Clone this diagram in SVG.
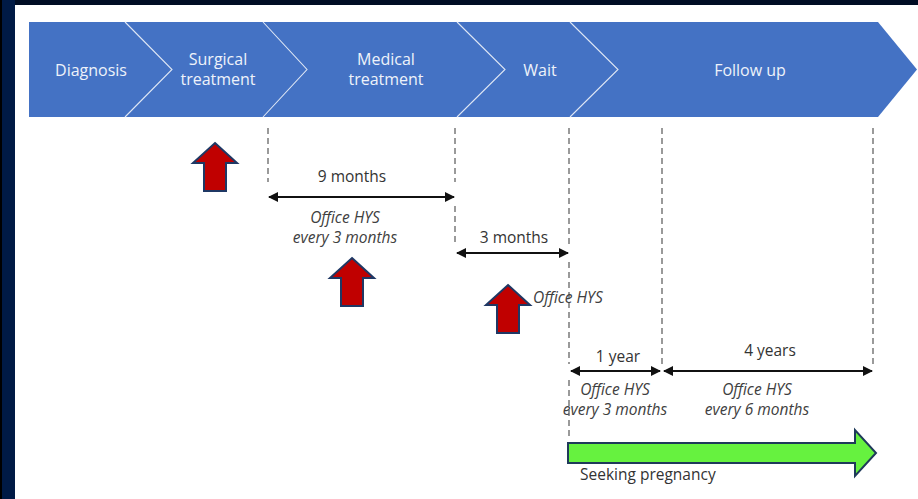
<svg xmlns="http://www.w3.org/2000/svg" width="918" height="499" viewBox="0 0 918 499">
<style>
.stage{font-family:"Open Sans","Liberation Sans",sans-serif;font-size:16px;fill:#eef2fa;text-anchor:middle}
.lbl{font-family:"Open Sans","Liberation Sans",sans-serif;font-size:15.5px;fill:#333;text-anchor:middle}
.it{font-family:"Open Sans","Liberation Sans",sans-serif;font-size:15.5px;font-style:italic;fill:#404040;text-anchor:middle}
.dash{stroke:#9a9a9a;stroke-width:2;stroke-dasharray:6,4;fill:none}
.dim{stroke:#111;stroke-width:2;fill:none;marker-start:url(#ah);marker-end:url(#ah)}
.sep{stroke:#dfe7f5;stroke-width:1.1;fill:none}
.red{fill:#c00000;stroke:#1f3864;stroke-width:2;stroke-linejoin:miter}
</style>
<defs>
<marker id="ah" viewBox="0 0 10 10" refX="9" refY="5" markerWidth="5" markerHeight="5" orient="auto-start-reverse" markerUnits="strokeWidth">
<path d="M0,0 L10,5 L0,10 Z" fill="#111"/>
</marker>
<path id="up" d="M0,0 L22,20 L11,20 L11,48 L-11,48 L-11,20 L-22,20 Z"/>
</defs>
<rect width="918" height="499" fill="#ffffff"/>
<rect x="0" y="0" width="918" height="5" fill="#000d24"/>
<rect x="0" y="0" width="15" height="499" fill="#001a45"/>
<rect x="0" y="0" width="2" height="499" fill="#000"/>

<g id="banner">
<path d="M29,22 L878,22 L917,69.5 L878,117 L29,117 Z" fill="#4472c4"/>
<path class="sep" d="M125,22 L172,69.5 L125,117"/>
<path class="sep" d="M263,22 L307,69.5 L263,117"/>
<path class="sep" d="M457,22 L505,69.5 L457,117"/>
<path class="sep" d="M570,22 L618,69.5 L570,117"/>
</g>
<g id="stage-diagnosis"><text class="stage" x="91" y="76">Diagnosis</text></g>
<g id="stage-surgical"><text class="stage" x="218" y="65">Surgical</text><text class="stage" x="218" y="85">treatment</text></g>
<g id="stage-medical"><text class="stage" x="386" y="65">Medical</text><text class="stage" x="386" y="85">treatment</text></g>
<g id="stage-wait"><text class="stage" x="540" y="76">Wait</text></g>
<g id="stage-followup"><text class="stage" x="750" y="76">Follow up</text></g>

<g id="connectors">
<line class="dash" x1="268" y1="128" x2="268" y2="182"/>
<line class="dash" x1="455" y1="128" x2="455" y2="182"/>
<line class="dash" x1="455" y1="206" x2="455" y2="245"/>
<line class="dash" x1="569" y1="128" x2="569" y2="244"/>
<line class="dash" x1="569" y1="262" x2="569" y2="364"/>
<line class="dash" x1="569" y1="380" x2="569" y2="440"/>
<line class="dash" x1="662" y1="128" x2="662" y2="364"/>
<line class="dash" x1="873" y1="128" x2="873" y2="364"/>
<line class="dim" x1="269" y1="197" x2="454" y2="197"/>
<line class="dim" x1="457" y1="253" x2="568" y2="253"/>
<line class="dim" x1="571" y1="371" x2="660" y2="371"/>
<line class="dim" x1="664" y1="371" x2="872" y2="371"/>
</g>

<g id="label-9months"><text class="lbl" x="352" y="182">9 months</text></g>
<g id="note-9months"><text class="it" x="345" y="223">Office HYS</text><text class="it" x="345" y="243">every 3 months</text></g>
<g id="label-3months"><text class="lbl" x="514" y="243">3 months</text></g>
<g id="note-wait"><text class="it" x="533" y="303" style="text-anchor:start">Office HYS</text></g>
<g id="label-1year"><text class="lbl" x="618" y="362">1 year</text></g>
<g id="label-4years"><text class="lbl" x="770" y="356">4 years</text></g>
<g id="note-1year"><text class="it" x="615" y="395">Office HYS</text><text class="it" x="615" y="415">every 3 months</text></g>
<g id="note-4years"><text class="it" x="757" y="395">Office HYS</text><text class="it" x="757" y="415">every 6 months</text></g>

<g id="red-arrow-1"><use href="#up" class="red" x="215" y="143"/></g>
<g id="red-arrow-2"><use href="#up" class="red" x="352" y="258"/></g>
<g id="red-arrow-3"><use href="#up" class="red" x="508" y="285"/></g>

<g id="pregnancy">
<path d="M568,443 L855,443 L855,430 L876,453 L855,476 L855,463 L568,463 Z" fill="#66f23f" stroke="#1f3a5a" stroke-width="2"/>
<text class="lbl" x="580" y="480" style="text-anchor:start">Seeking pregnancy</text>
</g>
</svg>
